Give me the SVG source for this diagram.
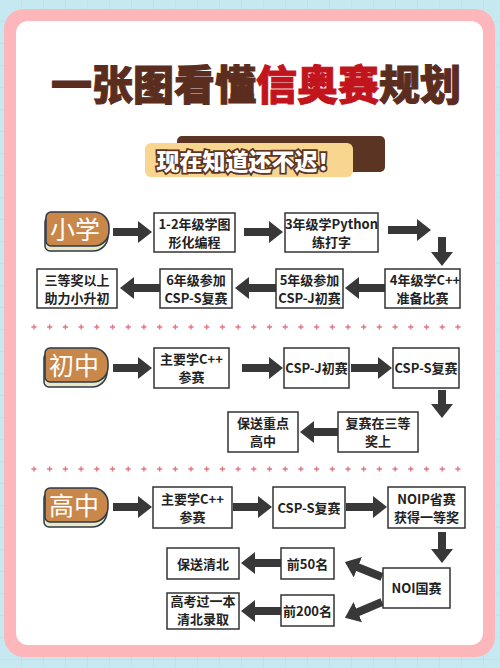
<svg xmlns="http://www.w3.org/2000/svg" width="500" height="668" viewBox="0 0 500 668">
<defs>
<style>
.box{fill:#fff;stroke:#333;stroke-width:1.5}
.t{font-family:"Noto Sans CJK SC","Noto Sans",sans-serif;font-weight:700;font-size:13px;fill:#222;text-anchor:middle}
.bt{font-family:"Noto Sans CJK SC",sans-serif;font-weight:400;font-size:25px;fill:#fff;text-anchor:middle}
.arr{stroke:#383838;stroke-width:8;fill:none;marker-end:url(#ah)}
.badge{fill:#c9874a;stroke:#2c3a48;stroke-width:1.5}
.bbase{fill:#ece8c4;stroke:#2c3a48;stroke-width:1.5}
</style>
<pattern id="grid" width="22" height="22" patternUnits="userSpaceOnUse">
<rect width="22" height="22" fill="#c6e9f1"/>
<path d="M22 0V22M0 22H22" stroke="#b2dbe6" stroke-width="1" fill="none"/>
</pattern>
<marker id="ah" viewBox="0 0 14 22" refX="2" refY="11" markerWidth="14" markerHeight="22" markerUnits="userSpaceOnUse" orient="auto">
<path d="M0,0 L14,11 L0,22 Z" fill="#383838"/>
</marker>
<path id="bshape" d="M5,0 H48 A15,15 0 0 1 63,15 V19 A15,15 0 0 1 48,34 H5 A5,5 0 0 1 0,29 V5 A5,5 0 0 1 5,0 Z"/>
<g id="pl"><path d="M-2.6 0H2.6M0 -2.6V2.6" stroke="#e27683" stroke-width="1.4"/></g>
</defs>

<rect width="500" height="668" fill="url(#grid)"/>
<rect x="4" y="9" width="491" height="648" rx="20" fill="#fdb6ba"/>
<rect x="16" y="21" width="467" height="624" rx="12" fill="#fff"/>

<g id="title">
<text x="51" y="100" font-family="'Noto Sans CJK SC',sans-serif" font-weight="900" font-size="41" fill="#5b2d1f" stroke="#5b2d1f" stroke-width="1">一张图看懂<tspan fill="#c2141c" stroke="#c2141c">信奥赛</tspan>规划</text>
</g>

<g id="subtitle">
<rect x="177" y="136" width="208" height="36" rx="5" fill="#5b3423"/>
<rect x="145" y="143" width="208" height="34" rx="6" fill="#f8d690"/>
<text x="248.5" y="170" font-family="'Noto Sans CJK SC',sans-serif" font-weight="900" font-size="23" fill="#fff" stroke="#5b3423" stroke-width="3.5" paint-order="stroke" text-anchor="middle">现在知道还不迟！</text>
</g>

<g id="dividers">
<use href="#pl" x="34" y="327"/><use href="#pl" x="49.7" y="327"/><use href="#pl" x="65.4" y="327"/><use href="#pl" x="81.1" y="327"/><use href="#pl" x="96.8" y="327"/><use href="#pl" x="112.5" y="327"/><use href="#pl" x="128.2" y="327"/><use href="#pl" x="143.9" y="327"/><use href="#pl" x="159.6" y="327"/><use href="#pl" x="175.3" y="327"/><use href="#pl" x="191" y="327"/><use href="#pl" x="206.7" y="327"/><use href="#pl" x="222.4" y="327"/><use href="#pl" x="238.1" y="327"/><use href="#pl" x="253.8" y="327"/><use href="#pl" x="269.5" y="327"/><use href="#pl" x="285.2" y="327"/><use href="#pl" x="300.9" y="327"/><use href="#pl" x="316.6" y="327"/><use href="#pl" x="332.3" y="327"/><use href="#pl" x="348" y="327"/><use href="#pl" x="363.7" y="327"/><use href="#pl" x="379.4" y="327"/><use href="#pl" x="395.1" y="327"/><use href="#pl" x="410.8" y="327"/><use href="#pl" x="426.5" y="327"/><use href="#pl" x="442.2" y="327"/><use href="#pl" x="457.9" y="327"/>
<use href="#pl" x="34" y="469"/><use href="#pl" x="49.7" y="469"/><use href="#pl" x="65.4" y="469"/><use href="#pl" x="81.1" y="469"/><use href="#pl" x="96.8" y="469"/><use href="#pl" x="112.5" y="469"/><use href="#pl" x="128.2" y="469"/><use href="#pl" x="143.9" y="469"/><use href="#pl" x="159.6" y="469"/><use href="#pl" x="175.3" y="469"/><use href="#pl" x="191" y="469"/><use href="#pl" x="206.7" y="469"/><use href="#pl" x="222.4" y="469"/><use href="#pl" x="238.1" y="469"/><use href="#pl" x="253.8" y="469"/><use href="#pl" x="269.5" y="469"/><use href="#pl" x="285.2" y="469"/><use href="#pl" x="300.9" y="469"/><use href="#pl" x="316.6" y="469"/><use href="#pl" x="332.3" y="469"/><use href="#pl" x="348" y="469"/><use href="#pl" x="363.7" y="469"/><use href="#pl" x="379.4" y="469"/><use href="#pl" x="395.1" y="469"/><use href="#pl" x="410.8" y="469"/><use href="#pl" x="426.5" y="469"/><use href="#pl" x="442.2" y="469"/><use href="#pl" x="457.9" y="469"/>
</g>

<g id="badge-primary" transform="translate(46,212)">
<use href="#bshape" class="bbase" x="-1" y="5"/>
<use href="#bshape" class="badge"/>
<text class="bt" x="29" y="26.5">小学</text>
</g>
<g id="badge-middle" transform="translate(45,348)">
<use href="#bshape" class="bbase" x="-1" y="5"/>
<use href="#bshape" class="badge"/>
<text class="bt" x="29" y="26.5">初中</text>
</g>
<g id="badge-high" transform="translate(45,488)">
<use href="#bshape" class="bbase" x="-1" y="5"/>
<use href="#bshape" class="badge"/>
<text class="bt" x="29" y="26.5">高中</text>
</g>

<g id="connectors">
<line class="arr" x1="113" y1="232" x2="140" y2="232"/>
<line class="arr" x1="244" y1="232" x2="271" y2="232"/>
<line class="arr" x1="388" y1="230" x2="419" y2="230"/>
<line class="arr" x1="442" y1="237" x2="442" y2="254"/>
<line class="arr" x1="385" y1="288" x2="357" y2="288"/>
<line class="arr" x1="276" y1="288" x2="247" y2="288"/>
<line class="arr" x1="160" y1="288" x2="132" y2="288"/>

<line class="arr" x1="113" y1="368" x2="140" y2="368"/>
<line class="arr" x1="242" y1="368" x2="271" y2="368"/>
<line class="arr" x1="351" y1="368" x2="380" y2="368"/>
<line class="arr" x1="442" y1="390" x2="442" y2="406"/>
<line class="arr" x1="338" y1="432" x2="312" y2="432"/>

<line class="arr" x1="113" y1="507" x2="140" y2="507"/>
<line class="arr" x1="233" y1="507" x2="260" y2="507"/>
<line class="arr" x1="346" y1="507" x2="375" y2="507"/>
<line class="arr" x1="442" y1="532" x2="442" y2="551"/>
<line class="arr" x1="281" y1="563" x2="253" y2="563"/>
<line class="arr" x1="281" y1="611" x2="253" y2="611"/>
<line class="arr" x1="382" y1="577" x2="356" y2="566.5"/>
<line class="arr" x1="382" y1="602" x2="356" y2="613"/>
</g>

<g id="n1"><rect class="box" x="154" y="213" width="81" height="39"/><text class="t" x="194.5" y="228.5">1-2年级学图</text><text class="t" x="194.5" y="246.5">形化编程</text></g>
<g id="n2"><rect class="box" x="285" y="213" width="93" height="39"/><text class="t" x="331.5" y="228.5">3年级学Python</text><text class="t" x="331.5" y="246.5">练打字</text></g>
<g id="n3"><rect class="box" x="385" y="269" width="75" height="39"/><text class="t" x="425" y="284.5">4年级学C++</text><text class="t" x="422.5" y="302.5">准备比赛</text></g>
<g id="n4"><rect class="box" x="276" y="269" width="67" height="39"/><text class="t" x="309.5" y="284.5">5年级参加</text><text class="t" x="309.5" y="302.5">CSP-J初赛</text></g>
<g id="n5"><rect class="box" x="160" y="269" width="72" height="39"/><text class="t" x="196" y="284.5">6年级参加</text><text class="t" x="196" y="302.5">CSP-S复赛</text></g>
<g id="n6"><rect class="box" x="37" y="269" width="80" height="39"/><text class="t" x="77" y="284.5">三等奖以上</text><text class="t" x="77" y="302.5">助力小升初</text></g>

<g id="m1"><rect class="box" x="154" y="348" width="75" height="40"/><text class="t" x="191.5" y="364">主要学C++</text><text class="t" x="191.5" y="382">参赛</text></g>
<g id="m2"><rect class="box" x="284" y="348" width="65" height="40"/><text class="t" x="316.5" y="373">CSP-J初赛</text></g>
<g id="m3"><rect class="box" x="393" y="348" width="66" height="40"/><text class="t" x="426" y="373">CSP-S复赛</text></g>
<g id="m4"><rect class="box" x="338" y="412" width="80" height="40"/><text class="t" x="378" y="428">复赛在三等</text><text class="t" x="378" y="446">奖上</text></g>
<g id="m5"><rect class="box" x="228" y="412" width="70" height="40"/><text class="t" x="263" y="428">保送重点</text><text class="t" x="263" y="446">高中</text></g>

<g id="h1"><rect class="box" x="153" y="487" width="79" height="41"/><text class="t" x="192.5" y="503.5">主要学C++</text><text class="t" x="192.5" y="521.5">参赛</text></g>
<g id="h2"><rect class="box" x="273" y="487" width="72" height="41"/><text class="t" x="309" y="512.5">CSP-S复赛</text></g>
<g id="h3"><rect class="box" x="388" y="487" width="77" height="41"/><text class="t" x="426.5" y="503.5">NOIP省赛</text><text class="t" x="426.5" y="521.5">获得一等奖</text></g>
<g id="h4"><rect class="box" x="383" y="568" width="67" height="40"/><text class="t" x="416.5" y="593">NOI国赛</text></g>
<g id="h5"><rect class="box" x="281" y="548" width="53" height="31"/><text class="t" x="307.5" y="568.5">前50名</text></g>
<g id="h6"><rect class="box" x="167" y="548" width="72" height="31"/><text class="t" x="203" y="568.5">保送清北</text></g>
<g id="h7"><rect class="box" x="281" y="595" width="53" height="31"/><text class="t" x="307.5" y="615.5">前200名</text></g>
<g id="h8"><rect class="box" x="167" y="593" width="72" height="36"/><text class="t" font-size="11.5"><tspan x="203" y="606">高考过一本</tspan><tspan x="203" y="624">清北录取</tspan></text></g>
</svg>
